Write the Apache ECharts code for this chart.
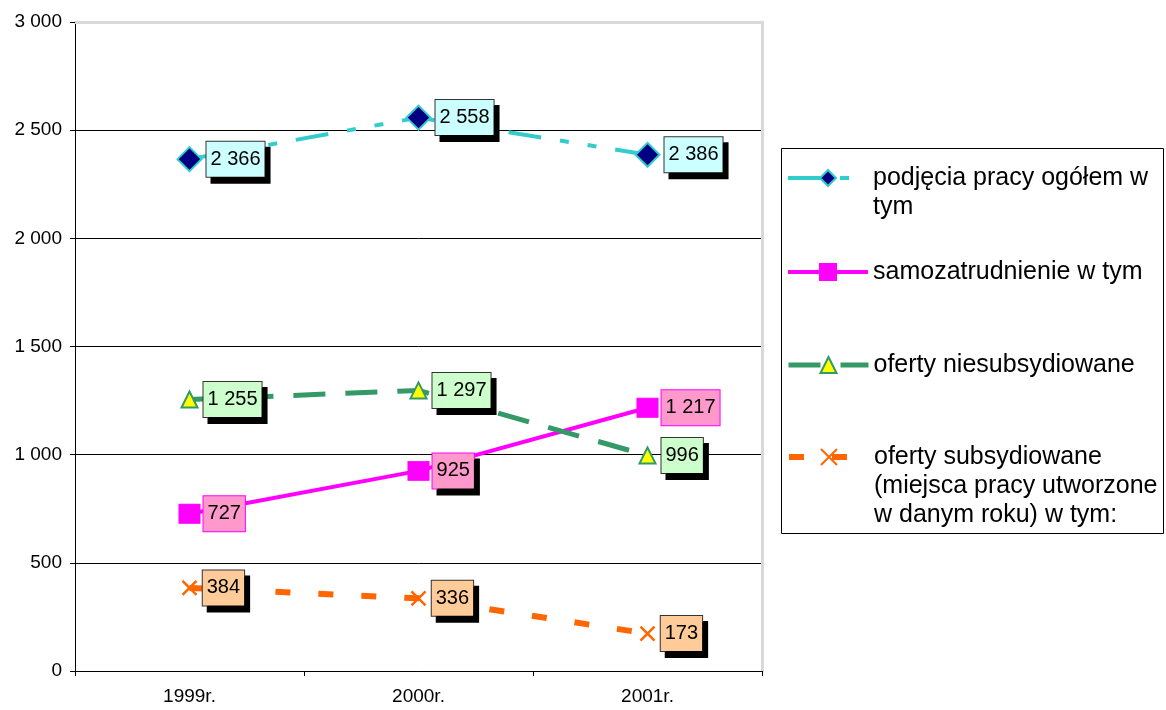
<!DOCTYPE html>
<html>
<head>
<meta charset="utf-8">
<script src="https://cdn.jsdelivr.net/npm/echarts@6/dist/echarts.min.js"></script>
<style>
  html, body { margin: 0; padding: 0; background: #fff; }
  #chart { width: 1166px; height: 710px; }
</style>
</head>
<body>
<div id="chart"></div>
<script>
// dane
const years = ['1999r.', '2000r.', '2001r.'];
const podjecia = [2366, 2558, 2386];
const samozatrudnienie = [727, 925, 1217];
const niesubsydiowane = [1255, 1297, 996];
const subsydiowane = [384, 336, 173];
const seriesNames = [
  'podjęcia pracy ogółem w\ntym',
  'samozatrudnienie w tym',
  'oferty niesubsydiowane',
  'oferty subsydiowane\n(miejsca pracy utworzone\nw danym roku) w tym:'
];
const yMin = 0, yMax = 3000, yStep = 500;

const FONT = 'Liberation Sans, Arial, sans-serif';

// "2 366" - spacja jako separator tysięcy
function fmt(v) {
  return String(v).replace(/\B(?=(\d{3})+(?!\d))/g, ' ');
}

function boxLabel(bg, border, shadow, dist) {
  return {
    show: true,
    position: 'right',
    distance: dist,
    formatter: p => fmt(p.value),
    fontFamily: FONT,
    fontSize: 20,
    color: '#000',
    backgroundColor: bg,
    borderColor: border,
    borderWidth: 1,
    padding: [8, 4, 7, 4],
    shadowColor: shadow ? '#000' : 'rgba(0,0,0,0)',
    shadowBlur: 0,
    shadowOffsetX: 5,
    shadowOffsetY: 6
  };
}

// legenda - każdy wpis osobno, ikona na wysokości pierwszej linii
const legendTops = [134.5, 257.5, 350.5, 384.5];
const legendLineW = [4, 4, 5, 6];
const lineH = 29;

const legends = seriesNames.map((n, i) => {
  const lines = n.split('\n').length;
  return {
    data: [n],
    orient: 'vertical',
    left: 786,
    top: legendTops[i],
    padding: 0,
    itemWidth: 80,
    itemHeight: 20,
    selectedMode: false,
    z: 5,
    lineStyle: { width: legendLineW[i] },
    // puste linie na początku, żeby ikona stała przy pierwszym wierszu
    formatter: name => '\n'.repeat(lines - 1) + name,
    textStyle: {
      fontFamily: FONT,
      fontSize: 25,
      lineHeight: lineH,
      color: '#000'
    }
  };
});

const chart = echarts.init(document.getElementById('chart'));
chart.setOption({
  animation: false,
  backgroundColor: '#fff',
  grid: { left: 75, right: 404, top: 22, bottom: 39 },
  graphic: [{
    type: 'rect',
    left: 781,
    top: 148,
    z: 0,
    shape: { width: 382, height: 385 },
    style: { fill: '#fff', stroke: '#000', lineWidth: 1 }
  }],
  legend: legends,
  xAxis: [{
    type: 'category',
    data: years,
    boundaryGap: true,
    axisLine: { lineStyle: { color: '#000', width: 1 } },
    axisTick: { show: true, alignWithLabel: false, length: 5, lineStyle: { color: '#000' } },
    axisLabel: { color: '#000', fontFamily: FONT, fontSize: 19, margin: 16 },
    splitLine: { show: false }
  }, {
    type: 'category',
    data: years,
    position: 'top',
    axisLine: { onZero: false, lineStyle: { color: '#d9d9d9', width: 3 } },
    axisTick: { show: false },
    axisLabel: { show: false }
  }],
  yAxis: [{
    type: 'value',
    min: yMin,
    max: yMax,
    interval: yStep,
    axisLine: { show: true, onZero: false, lineStyle: { color: '#000', width: 1 } },
    axisTick: { show: true, length: 5, lineStyle: { color: '#000' } },
    axisLabel: { color: '#000', fontFamily: FONT, fontSize: 19, margin: 13, formatter: v => fmt(v) },
    splitLine: { show: true, lineStyle: { color: '#000', width: 1 } }
  }, {
    type: 'value',
    min: yMin,
    max: yMax,
    interval: yStep,
    position: 'right',
    axisLine: { show: true, onZero: false, lineStyle: { color: '#d9d9d9', width: 3 } },
    axisTick: { show: false },
    axisLabel: { show: false },
    splitLine: { show: false }
  }],
  series: [{
    name: seriesNames[0],
    type: 'line',
    data: podjecia,
    symbol: 'diamond',
    symbolSize: 24,
    itemStyle: { color: '#000080', borderColor: '#33CCCC', borderWidth: 2 },
    lineStyle: { color: '#33CCCC', width: 4, type: [33, 19, 9, 19, 9, 19] },
    label: boxLabel('#CCFFFF', '#333', true, 4),
    z: 4
  }, {
    name: seriesNames[1],
    type: 'line',
    data: samozatrudnienie.map((v, i) => i === 1
      ? { value: v, label: { shadowColor: '#000' } }
      : v),
    symbol: 'rect',
    symbolSize: [21, 19],
    itemStyle: { color: '#FF00FF', borderColor: '#FF00FF', borderWidth: 1 },
    lineStyle: { color: '#FF00FF', width: 4, type: 'solid' },
    label: boxLabel('#FF99CC', '#FF00FF', false, 3),
    z: 3
  }, {
    name: seriesNames[2],
    type: 'line',
    data: niesubsydiowane,
    symbol: 'triangle',
    symbolSize: 16,
    itemStyle: { color: '#FFFF00', borderColor: '#339966', borderWidth: 2 },
    lineStyle: { color: '#339966', width: 5, type: [32, 20] },
    label: boxLabel('#CCFFCC', '#333', true, 5),
    z: 3
  }, {
    name: seriesNames[3],
    type: 'line',
    data: subsydiowane,
    symbol: 'path://M0,0L10,10M10,0L0,10',
    symbolSize: 14,
    itemStyle: { color: '#FF6600', borderColor: '#FF6600', borderWidth: 2.5 },
    lineStyle: { color: '#FF6600', width: 6, type: [15, 28] },
    label: boxLabel('#FFCC99', '#333', true, 5),
    z: 3
  }]
});
</script>
</body>
</html>
